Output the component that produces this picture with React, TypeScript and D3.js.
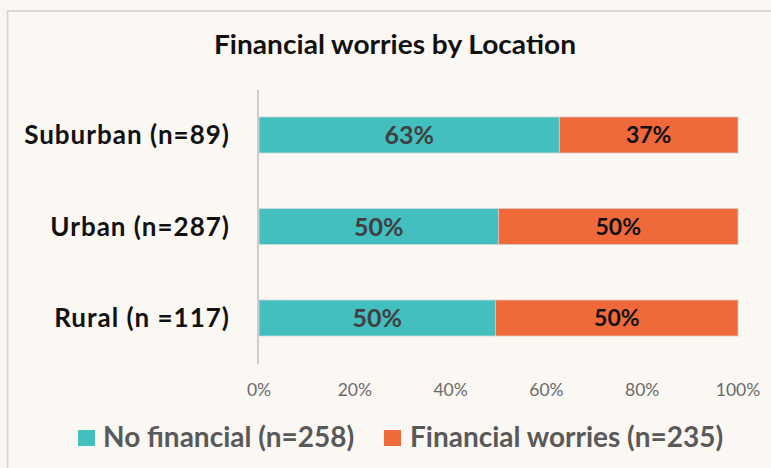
import React from "react";
import * as d3 from "d3";

const categories = ["Suburban (n=89)", "Urban (n=287)", "Rural (n =117)"];
const noFinancial = [0.627, 0.5, 0.494];
const financialWorries = [0.373, 0.5, 0.506];
const noFinLabels = ["63%", "50%", "50%"];
const finLabels = ["37%", "50%", "50%"];
const xTicks = [0, 0.2, 0.4, 0.6, 0.8, 1.0];
const seriesNames = ["No financial (n=258)", "Financial worries (n=235)"];
const title = "Financial worries by Location";

const W = 771;
const H = 468;
const TEAL = "#42bfbe";
const ORANGE = "#ef693b";
const FONT = "Lato, 'Open Sans', sans-serif";

export default function App() {
  const x = d3.scaleLinear().domain([0, 1]).range([259, 738]);
  const y = d3
    .scaleBand<string>()
    .domain(categories)
    .range([90, 363])
    .paddingInner(0.6066)
    .paddingOuter(0.295);
  const bw = y.bandwidth();
  const fmt = d3.format(".0%");

  return (
    <svg
      width={W}
      height={H}
      style={{ position: "absolute", left: 0, top: 0, display: "block" }}
    >
      <rect x={0} y={0} width={W} height={H} fill="#faf6f2" />
      <rect x={7.5} y={11} width={W + 10} height={H} fill="#fbf7f3" stroke="#d9d9d9" strokeWidth={2} />
      <text
        x={395}
        y={54}
        textAnchor="middle"
        fontFamily={FONT}
        fontWeight={700}
        fontSize={26}
        fill="#111"
        textLength={362}
        lengthAdjust="spacingAndGlyphs"
      >
        {title}
      </text>

      {categories.map((c, i) => {
        const yy = y(c)!;
        const x0 = x(0);
        const x1 = x(noFinancial[i]);
        const x2 = x(noFinancial[i] + financialWorries[i]);
        return (
          <g key={c}>
            <rect x={x0} y={yy} width={x1 - x0} height={bw} fill={TEAL} stroke="#cfd8d8" strokeWidth={0.8} />
            <rect x={x1} y={yy} width={x2 - x1} height={bw} fill={ORANGE} stroke="#d9c9c2" strokeWidth={0.8} />
            <text
              x={(x0 + x1) / 2}
              y={yy + bw / 2}
              dy="0.36em"
              textAnchor="middle"
              fontFamily={FONT}
              fontWeight={700}
              fontSize={25}
              fill="#404040"
            >
              {noFinLabels[i]}
            </text>
            <text
              x={(x1 + x2) / 2}
              y={yy + bw / 2}
              dy="0.36em"
              textAnchor="middle"
              fontFamily={FONT}
              fontWeight={700}
              fontSize={23}
              fill="#111"
            >
              {finLabels[i]}
            </text>
            <text
              x={230}
              y={yy + bw / 2}
              dy="0.36em"
              textAnchor="end"
              fontFamily={FONT}
              fontWeight={700}
              fontSize={26}
              letterSpacing={1}
              fill="#111"
            >
              {c}
            </text>
          </g>
        );
      })}

      <line x1={258} x2={258} y1={90} y2={364} stroke="#d0cccc" strokeWidth={2} />

      {xTicks.map((t) => (
        <text
          key={t}
          x={x(t)}
          y={396}
          textAnchor="middle"
          fontFamily={FONT}
          fontSize={17.5}
          fill="#6a6a6a"
        >
          {fmt(t)}
        </text>
      ))}

      <rect x={78} y={430} width={17} height={16} fill={TEAL} />
      <text x={103} y={447} fontFamily={FONT} fontWeight={700} fontSize={28} fill="#595959">
        {seriesNames[0]}
      </text>
      <rect x={384} y={430} width={17} height={16} fill={ORANGE} />
      <text x={410} y={447} fontFamily={FONT} fontWeight={700} fontSize={28} fill="#595959">
        {seriesNames[1]}
      </text>
    </svg>
  );
}
